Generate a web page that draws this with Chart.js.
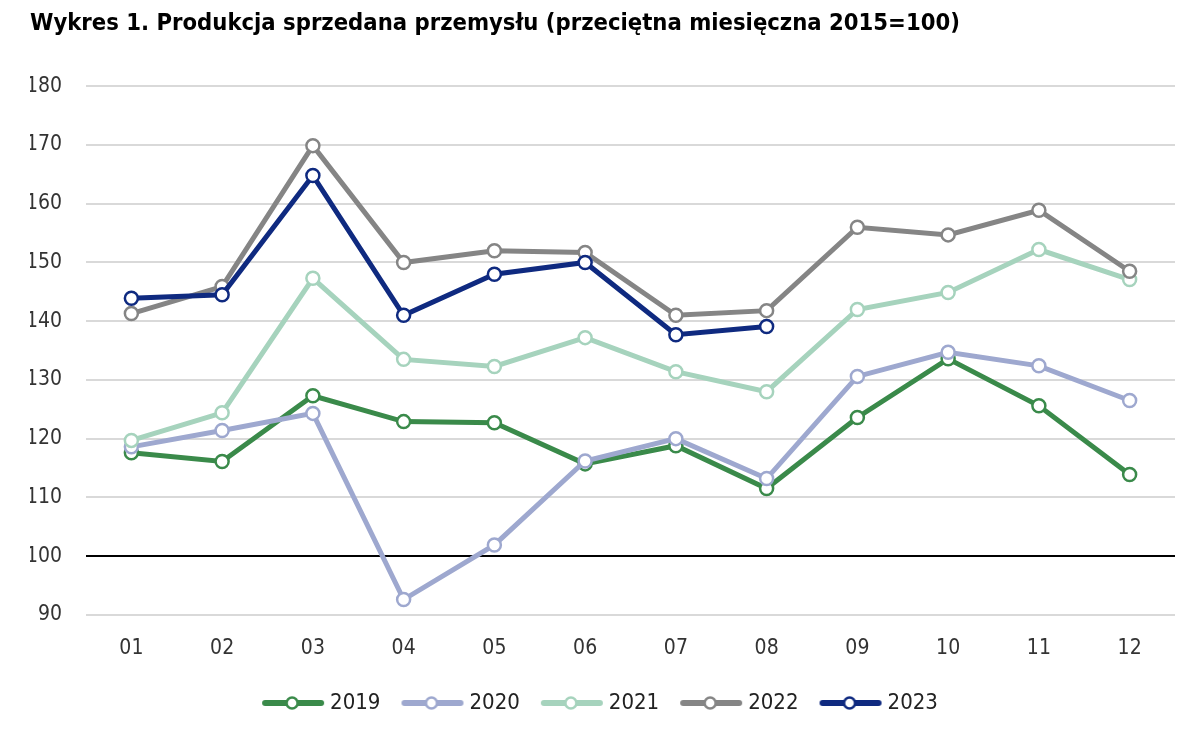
<!DOCTYPE html>
<html>
<head>
<meta charset="utf-8">
<script src="https://cdn.jsdelivr.net/npm/chart.js@4/dist/chart.umd.min.js"></script>
<style>
html,body{margin:0;padding:0;background:#fff;}
#wrap{position:relative;width:1200px;height:746px;}
</style>
</head>
<body>
<div id="wrap"><canvas id="c" width="1200" height="746"></canvas></div>
<script>
const categories = ['01','02','03','04','05','06','07','08','09','10','11','12'];
const s2019 = [117.6,116.1,127.3,122.9,122.7,115.7,118.8,111.5,123.6,133.6,125.6,113.9];
const s2020 = [118.6,121.4,124.3,92.6,101.9,116.2,120.0,113.2,130.6,134.7,132.4,126.5];
const s2021 = [119.7,124.4,147.3,133.5,132.3,137.2,131.4,128.0,142.0,144.9,152.2,147.1];
const s2022 = [141.3,145.9,169.9,150.0,152.0,151.7,141.0,141.8,156.0,154.7,158.9,148.5];
const s2023 = [143.9,144.5,164.8,141.0,148.0,150.0,137.7,139.1,null,null,null,null];
const seriesNames = ['2019','2020','2021','2022','2023'];
const seriesColors = ['#3a8a4a','#9ea8cf','#a6d3bd','#858585','#0f2a80'];
const yTicks = [90,100,110,120,130,140,150,160,170,180];

const tickFont = 'DejaVu Sans Condensed, Roboto, sans-serif';

function legendIcon(color){
  const cv = document.createElement('canvas');
  cv.width = 64; cv.height = 16;
  const g = cv.getContext('2d');
  g.lineCap = 'round';
  g.strokeStyle = color; g.lineWidth = 6;
  g.beginPath(); g.moveTo(4,8); g.lineTo(60,8); g.stroke();
  g.beginPath(); g.arc(31,8,5.5,0,Math.PI*2);
  g.fillStyle = '#fff'; g.fill();
  g.lineWidth = 2.5; g.stroke();
  return cv;
}

const allSeries = [s2019,s2020,s2021,s2022,s2023];
const datasets = allSeries.map((d,i)=>({
  label: seriesNames[i],
  data: d,
  borderColor: seriesColors[i],
  backgroundColor: seriesColors[i],
  borderWidth: 5,
  pointRadius: 6.5,
  pointHoverRadius: 6.5,
  pointBackgroundColor: '#fff',
  pointBorderColor: seriesColors[i],
  pointBorderWidth: 2.5,
  tension: 0,
  spanGaps: false,
  order: i===4 ? 0 : 5-i
}));

const ctx = document.getElementById('c').getContext('2d');
new Chart(ctx, {
  type: 'line',
  data: { labels: categories, datasets },
  options: {
    responsive: false,
    animation: false,
    layout: { padding: { left: 30, right: 25, top: 0, bottom: 22 } },
    plugins: {
      title: {
        display: true,
        text: 'Wykres 1. Produkcja sprzedana przemysłu (przeciętna miesięczna 2015=100)',
        align: 'start',
        color: '#000',
        font: { family: 'DejaVu Sans Condensed, Roboto, sans-serif', size: 23.6, weight: 'bold' },
        padding: { top: 10, bottom: 48 }
      },
      legend: {
        position: 'bottom',
        labels: {
          color: '#222',
          font: { family: tickFont, size: 22 },
          usePointStyle: true,
          pointStyleWidth: 52,
          padding: 26,
          generateLabels(chart){
            return chart.data.datasets.map((ds,i)=>({
              text: ds.label,
              pointStyle: legendIcon(seriesColors[i]),
              fillStyle: seriesColors[i],
              strokeStyle: seriesColors[i],
              lineWidth: 0,
              hidden: false,
              datasetIndex: i,
              fontColor: '#222'
            }));
          }
        }
      },
      tooltip: { enabled: false }
    },
    scales: {
      x: {
        offset: true,
        grid: { display: false, drawTicks: false },
        border: { display: false },
        ticks: { color: '#333', padding: 21, font: { family: tickFont, size: 21 } },
        afterFit(scale){ scale.height -= 16; }
      },
      y: {
        min: 90, max: 180,
        afterBuildTicks(scale){ scale.ticks = yTicks.map(v=>({value:v})); },
        afterFit(scale){ scale.width = 56; },
        grid: {
          drawTicks: false,
          color: c => c.tick && c.tick.value === 100 ? '#000' : '#d9d9d9',
          lineWidth: 2
        },
        border: { display: false },
        ticks: { color: '#333', padding: 24, font: { family: tickFont, size: 21 } }
      }
    }
  }
});
</script>
</body>
</html>
